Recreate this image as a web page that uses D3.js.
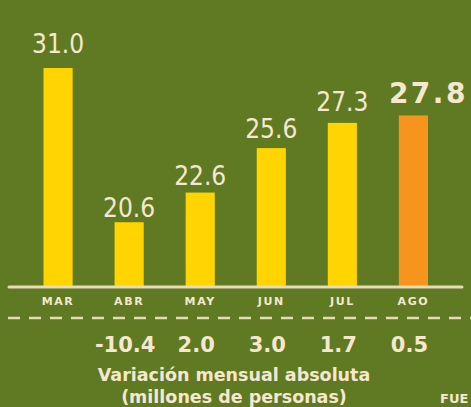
<!DOCTYPE html>
<html><head><meta charset="utf-8">
<script src="https://cdn.jsdelivr.net/npm/d3@7"></script>
<style>html,body{margin:0;padding:0;background:#5f7a23;overflow:hidden}</style>
</head><body>
<svg id="c" width="471" height="407"></svg>
<script>
const months = ["MAR","ABR","MAY","JUN","JUL","AGO"];
const values = [31.0, 20.6, 22.6, 25.6, 27.3, 27.8];
const valueLabels = ["31.0","20.6","22.6","25.6","27.3","27.8"];
const changeMonths = ["ABR","MAY","JUN","JUL","AGO"];
const changes = ["-10.4","2.0","3.0","1.7","0.5"];
const captionLines = ["Variación mensual absoluta","(millones de personas)"];
const sourceText = "FUE";

const svg = d3.select("#c");
const W = 471, H = 407;
const bg = "#5f7a23", yellow = "#ffd400", orange = "#f7941e", cream = "#f6e8d0", lineCol = "#e6dcb8";
svg.append("rect").attr("width", W).attr("height", H).attr("fill", bg);

const baseY = 286;
const x = d3.scaleBand().domain(months).range([43.5, 428]).paddingInner(0.59).paddingOuter(0);
const y = d3.scaleLinear().domain([16.3, 31]).range([baseY, 68]);
const yLabel = d3.scaleLinear().domain([16.47, 31]).range([282, 53]);

const last = months.length - 1;
svg.append("g").selectAll("rect").data(values).join("rect")
  .attr("x", (d,i) => x(months[i]))
  .attr("width", x.bandwidth())
  .attr("y", d => y(d))
  .attr("height", d => baseY - y(d))
  .attr("fill", (d,i) => i === last ? orange : yellow);

svg.append("g").selectAll("text").data(values).join("text")
  .attr("x", (d,i) => x(months[i]) + x.bandwidth()/2 + (i === last ? 15 : 0))
  .attr("y", d => yLabel(d))
  .attr("text-anchor", "middle")
  .attr("fill", cream)
  .attr("font-family", (d,i) => i === last ? "DejaVu Sans" : "DejaVu Sans Condensed")
  .attr("font-weight", (d,i) => i === last ? "bold" : "normal")
  .attr("font-size", (d,i) => i === last ? 28 : 26)
  .attr("letter-spacing", (d,i) => i === last ? 2.5 : 0)
  .text((d,i) => valueLabels[i]);

// baseline
svg.append("line").attr("x1", 9).attr("x2", 462).attr("y1", baseY + 1).attr("y2", baseY + 1)
  .attr("stroke", lineCol).attr("stroke-width", 3).attr("stroke-linecap", "round");

// month axis labels
const axis = d3.axisBottom(x).tickSize(0).tickPadding(0);
const ag = svg.append("g").attr("transform", `translate(0,${baseY + 12})`).call(axis);
ag.select(".domain").remove();
ag.selectAll("text").attr("fill", cream).attr("font-family", "DejaVu Sans").attr("font-weight", "bold")
  .attr("font-size", 11).attr("letter-spacing", 1.6).attr("dy", "0.68em");

// dashed line
svg.append("line").attr("x1", 8).attr("x2", 471).attr("y1", 318).attr("y2", 318)
  .attr("stroke", lineCol).attr("stroke-width", 2.5).attr("stroke-dasharray", "12 9");

// monthly changes
svg.append("g").selectAll("text").data(changes).join("text")
  .attr("x", (d,i) => x(changeMonths[i]) + x.bandwidth()/2 - 4)
  .attr("y", 352)
  .attr("text-anchor", "middle")
  .attr("fill", cream)
  .attr("font-family", "DejaVu Sans").attr("font-weight", "bold").attr("font-size", 21)
  .text(d => d);

svg.append("g").selectAll("text").data(captionLines).join("text")
  .attr("x", 234).attr("y", (d,i) => 381 + i*22)
  .attr("text-anchor", "middle").attr("fill", cream)
  .attr("font-family", "DejaVu Sans").attr("font-weight", "bold").attr("font-size", 17.5)
  .text(d => d);

svg.append("text").attr("x", 440).attr("y", 403).attr("fill", cream)
  .attr("font-family", "DejaVu Sans").attr("font-weight", "bold").attr("font-size", 13)
  .text(sourceText);
</script>
</body></html>
